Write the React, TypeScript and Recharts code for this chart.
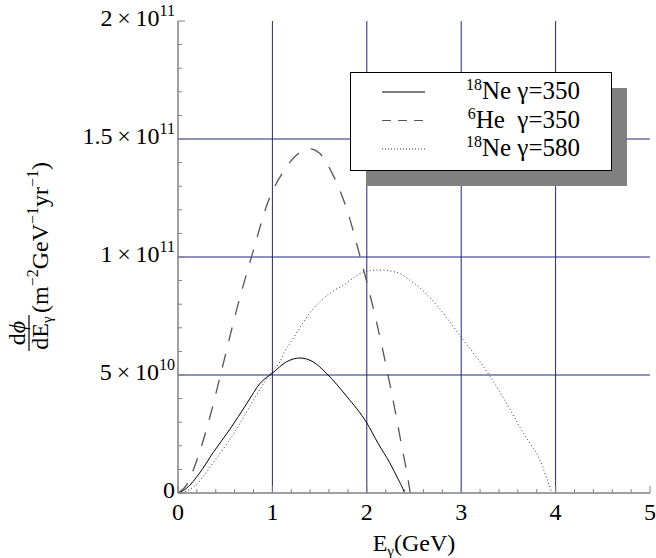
import { LineChart, Line, XAxis, YAxis, ReferenceLine, Legend } from 'recharts'

const SERIF = "'Liberation Serif', 'Times New Roman', serif"
const FRAME = '#808080'
const GRID = '#24247c'
const serif = { fontFamily: SERIF }

// flux values are in units of 1e10 m^-2 GeV^-1 yr^-1
const ne350Energy = [0, 0.09, 0.23, 0.37, 0.55, 0.73, 0.87, 1.0, 1.15, 1.29, 1.43, 1.57, 1.79, 2.0, 2.12, 2.24, 2.33, 2.38, 2.4]
const ne350Flux = [0, 0.2, 0.85, 1.7, 2.7, 3.8, 4.65, 5.08, 5.56, 5.72, 5.56, 5.08, 4.08, 2.97, 2.1, 1.3, 0.6, 0.2, 0]

const he350Energy = [0, 0.1, 0.2, 0.33, 0.45, 0.63, 0.8, 0.95, 1.13, 1.25, 1.39, 1.5, 1.62, 1.79, 1.93, 2.1, 2.26, 2.37, 2.44, 2.46]
const he350Flux = [0, 0.4, 1.4, 3.1, 5.0, 7.9, 10.3, 12.3, 13.7, 14.3, 14.6, 14.4, 13.65, 12.0, 10.0, 7.3, 4.3, 2.0, 0.5, 0]

const ne580Energy = [0, 0.1, 0.21, 0.37, 0.52, 0.66, 0.8, 0.92, 0.99, 1.08, 1.13, 1.19, 1.39, 1.66, 1.75, 1.98, 2.14, 2.35, 2.46, 2.56, 2.72, 3.0, 3.28, 3.5, 3.62, 3.72, 3.81, 3.9, 3.96]
const ne580Flux = [0, 0.1, 0.42, 1.27, 2.1, 2.97, 3.94, 4.72, 5.14, 5.56, 6.0, 6.36, 7.6, 8.6, 8.8, 9.38, 9.45, 9.3, 9.0, 8.7, 8.05, 6.6, 5.1, 3.66, 2.8, 2.15, 1.6, 0.7, 0]

const xMajorTicks = [0, 1, 2, 3, 4, 5]
const xAllTicks = [0, 0.2, 0.4, 0.6, 0.8, 1, 1.2, 1.4, 1.6, 1.8, 2, 2.2, 2.4, 2.6, 2.8, 3, 3.2, 3.4, 3.6, 3.8, 4, 4.2, 4.4, 4.6, 4.8, 5]
const xGridLines = [1, 2, 3, 4]

const yMajorTicks = [0, 5e10, 1e11, 1.5e11, 2e11]
const yTickMantissa = ['0', '5', '1', '1.5', '2']
const yTickExponent = ['', '10', '11', '11', '11']
const yAllTicks = [
  0, 1e10, 2e10, 3e10, 4e10, 5e10, 6e10, 7e10, 8e10, 9e10, 1e11,
  1.1e11, 1.2e11, 1.3e11, 1.4e11, 1.5e11, 1.6e11, 1.7e11, 1.8e11, 1.9e11, 2e11,
]
const yGridLines = [5e10, 1e11, 1.5e11]

const toRows = (xs: number[], ys: number[]) => xs.map((x, i) => ({ energy: x, flux: ys[i] * 1e10 }))

const ne350Data = toRows(ne350Energy, ne350Flux)
const he350Data = toRows(he350Energy, he350Flux)
const ne580Data = toRows(ne580Energy, ne580Flux)

function BottomTick({ x, y, payload }: any) {
  const major = xMajorTicks.includes(payload.value)
  return (
    <g>
      <line x1={x} x2={x} y1={y} y2={y - (major ? 7 : 4)} stroke={FRAME} />
      {major && (
        <text x={x} y={y + 27} textAnchor="middle" fontSize={24} style={serif} fill="#000">
          {payload.value}
        </text>
      )}
    </g>
  )
}

function TopTick({ x, y, payload }: any) {
  const major = xMajorTicks.includes(payload.value)
  return <line x1={x} x2={x} y1={y} y2={y + (major ? 7 : 4)} stroke={FRAME} />
}

function LeftTick({ x, y, payload }: any) {
  const i = yMajorTicks.indexOf(payload.value)
  return (
    <g>
      <line x1={x} x2={x + (i >= 0 ? 7 : 4)} y1={y} y2={y} stroke={FRAME} />
      {i >= 0 && (
        <text x={x - 3} y={y + 5} textAnchor="end" fontSize={24} style={serif} fill="#000">
          <tspan>{yTickMantissa[i]}</tspan>
          {yTickExponent[i] && <tspan>{'\u2009×\u200910'}</tspan>}
          {yTickExponent[i] && (
            <tspan dy={-10} fontSize={16}>
              {yTickExponent[i]}
            </tspan>
          )}
        </text>
      )}
    </g>
  )
}

function RightTick({ x, y, payload }: any) {
  const major = yMajorTicks.includes(payload.value)
  return <line x1={x} x2={x - (major ? 7 : 4)} y1={y} y2={y} stroke={FRAME} />
}

function XTitle() {
  return (
    <text x={414} y={551} textAnchor="middle" fontSize={24} style={serif} fill="#000">
      <tspan>E</tspan>
      <tspan fontSize={15} dy={5}>γ</tspan>
      <tspan dy={-5}>(GeV)</tspan>
    </text>
  )
}

function YTitle() {
  return (
    <g transform="rotate(-90)" style={serif} fill="#000">
      <text x={-333} y={25} textAnchor="middle" fontSize={24} style={serif}>
        d<tspan fontStyle="italic">ϕ</tspan>
      </text>
      <line x1={-351} x2={-315} y1={29} y2={29} stroke="#000" strokeWidth={1.2} />
      <text x={-333} y={48} textAnchor="middle" fontSize={24} style={serif}>
        dE<tspan fontSize={15} dy={4}>γ</tspan>
      </text>
      <text x={-313} y={48} fontSize={24} style={serif}>
        <tspan>(m</tspan>
        <tspan fontSize={16} dy={-10}>−2</tspan>
        <tspan dy={10}>GeV</tspan>
        <tspan fontSize={16} dy={-10}>−1</tspan>
        <tspan dy={10}>yr</tspan>
        <tspan fontSize={16} dy={-10}>−1</tspan>
        <tspan dy={10}>)</tspan>
      </text>
    </g>
  )
}

const legendRows = [
  { pre: '18', name: 'Ne γ=350', dash: undefined, color: '#000' },
  { pre: '6', name: 'He\u00a0\u00a0γ=350', dash: '9 7', color: '#555' },
  { pre: '18', name: 'Ne γ=580', dash: '1 2', color: '#333' },
]

function LegendBox() {
  return (
    <svg width={282} height={120} style={{ display: 'block', fontFamily: SERIF }}>
      <rect x={18} y={18} width={261} height={98} fill="#808080" />
      <rect x={2.5} y={2.5} width={261} height={98} fill="#fff" stroke="#000" strokeWidth={1} />
      {legendRows.map((r, i) => {
        const cy = 22 + i * 28.5
        return (
          <g key={r.name}>
            <line x1={34} x2={77} y1={cy} y2={cy} stroke={r.color} strokeDasharray={r.dash} strokeWidth={1.2} />
            <text x={232} y={cy + 7} textAnchor="end" fontSize={25} style={serif} fill="#000">
              <tspan fontSize={16} dy={-9}>{r.pre}</tspan>
              <tspan dy={9}>{r.name}</tspan>
            </text>
          </g>
        )
      })}
    </svg>
  )
}

export default function App() {
  return (
    <div style={{ position: 'absolute', left: 0, top: 0, width: 656, height: 558, background: '#fff' }}>
      <LineChart width={656} height={558} margin={{ top: 21, right: 6, bottom: 0, left: 0 }}>
        <XAxis
          xAxisId="bottom"
          dataKey="energy"
          type="number"
          domain={[0, 5]}
          ticks={xAllTicks}
          interval={0}
          tickSize={0}
          tickMargin={0}
          tickLine={false}
          height={65}
          axisLine={{ stroke: FRAME, strokeWidth: 1.5 }}
          tick={<BottomTick />}
          label={<XTitle />}
        />
        <XAxis
          xAxisId="top"
          orientation="top"
          type="number"
          domain={[0, 5]}
          ticks={xAllTicks}
          interval={0}
          tickSize={0}
          tickMargin={0}
          tickLine={false}
          height={0}
          axisLine={{ stroke: FRAME, strokeWidth: 1.5 }}
          tick={<TopTick />}
        />
        <YAxis
          yAxisId="left"
          type="number"
          domain={[0, 2e11]}
          ticks={yAllTicks}
          interval={0}
          tickSize={0}
          tickMargin={0}
          tickLine={false}
          width={178}
          axisLine={{ stroke: FRAME, strokeWidth: 1.5 }}
          tick={<LeftTick />}
          label={<YTitle />}
        />
        <YAxis
          yAxisId="right"
          orientation="right"
          type="number"
          domain={[0, 2e11]}
          ticks={yAllTicks}
          interval={0}
          tickSize={0}
          tickMargin={0}
          tickLine={false}
          width={0}
          axisLine={{ stroke: FRAME, strokeWidth: 1.5 }}
          tick={<RightTick />}
        />
        {xGridLines.map((v) => (
          <ReferenceLine key={'x' + v} x={v} xAxisId="bottom" yAxisId="left" stroke={GRID} strokeWidth={1} />
        ))}
        {yGridLines.map((v) => (
          <ReferenceLine key={'y' + v} y={v} xAxisId="bottom" yAxisId="left" stroke={GRID} strokeWidth={1} />
        ))}
        <Line
          data={ne350Data}
          dataKey="flux"
          xAxisId="bottom"
          yAxisId="left"
          type="monotone"
          stroke="#000"
          strokeWidth={1}
          dot={false}
          isAnimationActive={false}
        />
        <Line
          data={he350Data}
          dataKey="flux"
          xAxisId="bottom"
          yAxisId="left"
          type="monotone"
          stroke="#555"
          strokeWidth={1.3}
          strokeDasharray="14 13"
          dot={false}
          isAnimationActive={false}
        />
        <Line
          data={ne580Data}
          dataKey="flux"
          xAxisId="bottom"
          yAxisId="left"
          type="monotone"
          stroke="#333"
          strokeWidth={1}
          strokeDasharray="1 2.5"
          dot={false}
          isAnimationActive={false}
        />
        <Legend
          layout="horizontal"
          verticalAlign="middle"
          align="center"
          wrapperStyle={{ left: 348, top: 70, width: 282, height: 120 }}
          content={() => <LegendBox />}
        />
      </LineChart>
    </div>
  )
}
